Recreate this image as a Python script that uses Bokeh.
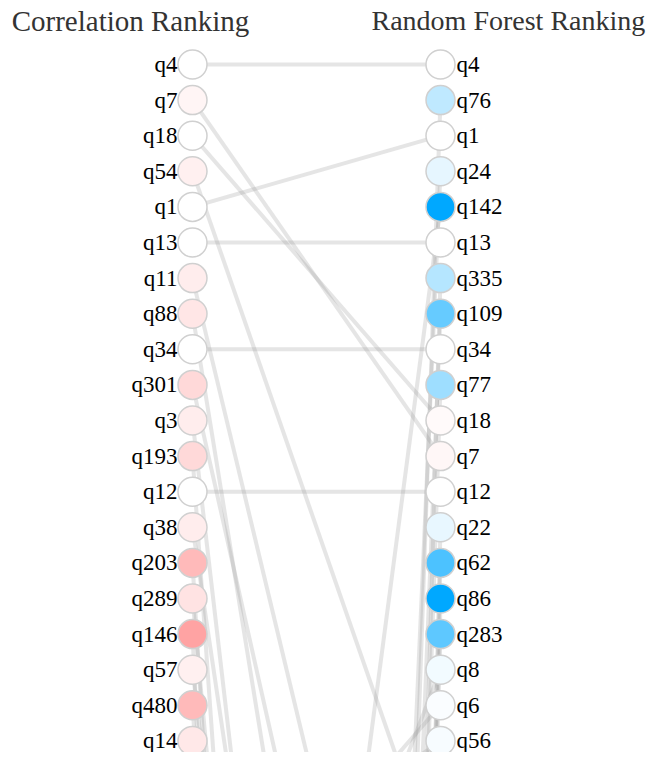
from bokeh.plotting import figure
from bokeh.models import Range1d, ColumnDataSource
from bokeh.core.properties import value
from bokeh.embed import file_html
from bokeh.resources import INLINE

# ---- data ----
left_labels = ["q4", "q7", "q18", "q54", "q1", "q13", "q11", "q88", "q34", "q301",
               "q3", "q193", "q12", "q38", "q203", "q289", "q146", "q57", "q480", "q14"]
# intensity of red (correlation strength) for each left item
left_strength = [0.0, 0.04, 0.0, 0.06, 0.0, 0.0, 0.07, 0.10, 0.0, 0.15,
                 0.07, 0.15, 0.0, 0.07, 0.27, 0.11, 0.36, 0.06, 0.27, 0.09]
# rank of each left item in the random-forest list (many far below the view)
left_partner_rank = [0, 11, 10, 23, 2, 5, 35, 50, 8, 40,
                     70, 110, 12, 60, 130, 90, 160, 75, 120, 85]

right_labels = ["q4", "q76", "q1", "q24", "q142", "q13", "q335", "q109", "q34", "q77",
                "q18", "q7", "q12", "q22", "q62", "q86", "q283", "q8", "q6", "q56"]
# signed importance intensity (positive -> blue, negative -> faint red)
right_strength = [0.0, 0.25, 0.0, 0.10, 1.0, 0.0, 0.29, 0.60, 0.0, 0.38,
                  -0.02, -0.03, 0.0, 0.09, 0.70, 1.0, 0.63, 0.05, 0.02, 0.03]
# rank of each right item in the correlation list
right_partner_rank = [0, 200, 4, 160, 57, 5, 250, 180, 8, 220,
                      2, 1, 12, 300, 260, 350, 190, 35, 26, 24]

titles = ["Correlation Ranking", "Random Forest Ranking"]

RED = (255, 0, 0)
BLUE = (0, 168, 255)


def mix(base, t):
    r = round(255 + (base[0] - 255) * t)
    g = round(255 + (base[1] - 255) * t)
    b = round(255 + (base[2] - 255) * t)
    return "#%02x%02x%02x" % (r, g, b)


left_colors = [mix(RED, t) for t in left_strength]
right_colors = [mix(BLUE, t) if t >= 0 else mix(RED, -t) for t in right_strength]

# segments (each pair once)
x0, y0, x1, y1 = [], [], [], []
for i, j in enumerate(left_partner_rank):
    x0.append(0); y0.append(i); x1.append(1); y1.append(j)
for j, i in enumerate(right_partner_rank):
    if right_labels[j] in left_labels:
        continue
    x0.append(0); y0.append(i); x1.append(1); y1.append(j)

W, H = 647, 752
COL_L, COL_GAP = 192, 248      # pixel position of left column, distance to right
ROW0, ROW_STEP = 64, 35.6      # pixel position of first row, row spacing

p = figure(width=W, height=H, output_backend="svg", toolbar_location=None,
           x_range=Range1d(-COL_L / COL_GAP, (W - COL_L) / COL_GAP),
           y_range=Range1d((H - ROW0) / ROW_STEP, -ROW0 / ROW_STEP),
           min_border=0, outline_line_color=None, background_fill_color="white")
p.axis.visible = False
p.grid.visible = False

p.segment(x0=x0, y0=y0, x1=x1, y1=y1, line_color="#999999", line_alpha=0.25,
          line_width=4)

n = len(left_labels)
ls = ColumnDataSource(dict(x=[0] * n, y=list(range(n)), c=left_colors, t=left_labels))
rs = ColumnDataSource(dict(x=[1] * n, y=list(range(n)), c=right_colors, t=right_labels))

for src in (ls, rs):
    p.scatter("x", "y", source=src, size=29, fill_color="c",
              line_color="#d0d0d0", line_width=1.5)

p.text("x", "y", text="t", source=ls, x_offset=-15, text_align="right",
       text_baseline="middle", text_font=value("Liberation Serif"),
       text_font_size="23px", text_color="#000000")
p.text("x", "y", text="t", source=rs, x_offset=16, text_align="left",
       text_baseline="middle", text_font=value("Liberation Serif"),
       text_font_size="23px", text_color="#000000")

title_y = (20 - ROW0) / ROW_STEP
p.text(x=[0], y=[title_y], text=[titles[0]], x_offset=-62, text_align="center",
       text_baseline="middle", text_font=value("Liberation Serif"),
       text_font_size="29px", text_color="#333333")
p.text(x=[1], y=[title_y], text=[titles[1]], x_offset=-69, text_align="left",
       text_baseline="middle", text_font=value("Liberation Serif"),
       text_font_size="28px", text_color="#333333")

open("out.html", "w").write(file_html(p, INLINE))
